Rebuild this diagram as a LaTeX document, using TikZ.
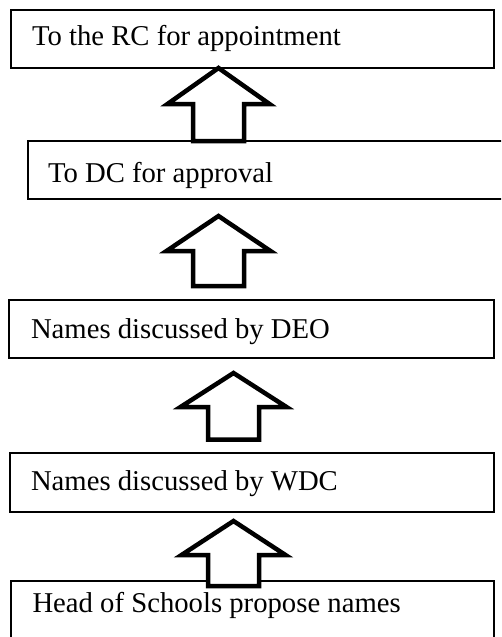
\documentclass[tikz,border=0pt]{standalone}
\usepackage{fontspec}
\setmainfont{Liberation Serif}
\begin{document}
\begin{tikzpicture}[x=1pt,y=-1pt,
  stagebox/.style={draw=black,line width=1.5pt,rectangle,inner sep=0pt,outer sep=0pt,anchor=north west},
  stagetext/.style={anchor=base west,inner sep=0pt,outer sep=0pt,font=\fontsize{28.7}{34}\selectfont},
  blockarrow/.style={draw=black,fill=white,line width=4.5pt,line join=miter,miter limit=10}]
% page frame
\useasboundingbox (0,0) rectangle (501,637);
\clip (0,0) rectangle (501,637);

% outlined up-arrow: #1 centre x, #2 tip y, #3 shoulder y, #4 base y,
% #5 half width of the head, #6 half width of the shaft
\newcommand\upblock[6]{%
  \draw[blockarrow] (#1,#2) -- ({#1+#5},#3) -- ({#1+#6},#3) -- ({#1+#6},#4)
    -- ({#1-#6},#4) -- ({#1-#6},#3) -- ({#1-#5},#3) -- cycle;}

% stages of the process
\node[stagebox,minimum width=483pt,minimum height=58pt] (b1) at (11,10) {};
\node[stagebox,minimum width=492pt,minimum height=58pt] (b2) at (28,141) {};
\node[stagebox,minimum width=485pt,minimum height=58pt] (b3) at (9,300) {};
\node[stagebox,minimum width=484pt,minimum height=59pt] (b4) at (10,453) {};
\node[stagebox,minimum width=483pt,minimum height=70pt] (b5) at (11,581) {};

\node[stagetext] (t1) at (32,45.7) {To the RC for appointment};
\node[stagetext] (t2) at (48,182) {To DC for approval};
\node[stagetext] (t3) at (31,338) {Names discussed by DEO};
\node[stagetext] (t4) at (31,490.5) {Names discussed by WDC};
\node[stagetext] (t5) at (32.5,612) {Head of Schools propose names};

% upward flow between the stages
\upblock{218.5}{68}{104}{141}{51}{25.5}
\upblock{218.5}{216}{251}{286}{52}{25.5}
\upblock{233.5}{373}{407}{439.5}{53}{25.5}
\upblock{233.5}{521}{555}{586}{52}{25.5}
\end{tikzpicture}
\end{document}
